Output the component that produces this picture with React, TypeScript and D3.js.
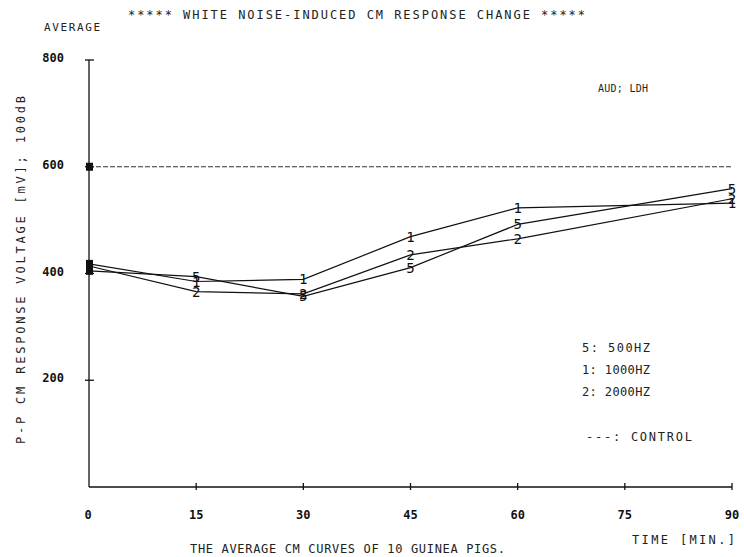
import React from 'react';
import * as d3 from 'd3';

// time points (min) and average p-p CM voltage per frequency
const times = [0, 15, 30, 45, 60, 90];
const s500 = [405, 394, 357, 411, 492, 559];
const s1000 = [418, 385, 389, 469, 523, 532];
const s2000 = [414, 366, 362, 435, 465, 540];
const controlValue = 600;

const xTicks = [0, 15, 30, 45, 60, 75, 90];
const yTicks = [200, 400, 600, 800];

const seriesList = [
    { mark: '5', values: s500 },
    { mark: '1', values: s1000 },
    { mark: '2', values: s2000 }
];

const legendItems = ['5:  500HZ', '1: 1000HZ', '2: 2000HZ'];

const W = 744;
const H = 557;
const MONO = '"DejaVu Sans Mono", "Liberation Mono", monospace';

const x = d3.scaleLinear().domain([0, 90]).range([89, 732]);
const y = d3.scaleLinear().domain([0, 800]).range([487, 60]);

const line = d3.line<number>()
    .x((d, i) => x(times[i]))
    .y(d => y(d));

export default function App() {
    return (
        <svg width={W} height={H} style={{ position: 'absolute', left: 0, top: 0, background: '#fff' }}>
            <g fontFamily={MONO} fill="#222">
                <text x={128} y={19} fontSize={12} textLength={457} lengthAdjust="spacing">
                    ***** WHITE NOISE-INDUCED CM RESPONSE CHANGE *****
                </text>
                <text x={44} y={31} fontSize={11} textLength={56} lengthAdjust="spacing">AVERAGE</text>
                <text x={598} y={92} fontSize={10} textLength={50} lengthAdjust="spacing">AUD; LDH</text>
                <text transform="translate(25,270) rotate(-90)" textAnchor="middle" fontSize={12}
                    textLength={348} lengthAdjust="spacing">
                    P-P CM RESPONSE VOLTAGE [mV]; 100dB
                </text>
            </g>

            {/* axes */}
            <g stroke="#111" strokeWidth={1.3} fill="none">
                <line x1={x(0)} y1={y(800)} x2={x(0)} y2={y(0)} />
                <line x1={x(0)} y1={y(0)} x2={x(90)} y2={y(0)} />
                {yTicks.map(t => (
                    <line key={t} x1={x(0) - 4} x2={x(0) + 5} y1={y(t)} y2={y(t)} />
                ))}
                {xTicks.slice(1).map(t => (
                    <line key={t} x1={x(t)} x2={x(t)} y1={y(0) - 4} y2={y(0) + 3} />
                ))}
            </g>

            <g fontFamily={MONO} fontWeight="bold" fontSize={12} fill="#111">
                {yTicks.map(t => (
                    <text key={t} x={64} y={y(t) + 2} textAnchor="end">{t}</text>
                ))}
                <text x={x(0) - 1} y={519} textAnchor="middle">0</text>
                {xTicks.slice(1).map(t => (
                    <text key={t} x={x(t)} y={519} textAnchor="middle">{t}</text>
                ))}
            </g>

            {/* control */}
            <line x1={x(0)} x2={x(90)} y1={y(controlValue)} y2={y(controlValue)}
                stroke="#333" strokeWidth={1} strokeDasharray="5,2" />
            <rect x={x(0) - 3} y={y(controlValue) - 4} width={7} height={8} fill="#111" />

            {/* series */}
            {seriesList.map(s => (
                <g key={s.mark}>
                    <path d={line(s.values) || ''} fill="none" stroke="#111" strokeWidth={1.2} />
                    <rect x={x(0) - 3} y={y(s.values[0]) - 4} width={7} height={8} fill="#111" />
                    {s.values.slice(1).map((v, i) => (
                        <text key={i} x={x(times[i + 1])} y={y(v) + 5} textAnchor="middle"
                            fontFamily={MONO} fontSize={14} fill="#111">{s.mark}</text>
                    ))}
                </g>
            ))}

            <g fontFamily={MONO} fontSize={12} fill="#222">
                {legendItems.map((t, i) => (
                    <text key={t} x={582} y={352 + i * 22} textLength={68} lengthAdjust="spacing">{t}</text>
                ))}
                <text x={586} y={441} textLength={106} lengthAdjust="spacing">---: CONTROL</text>
                <text x={632} y={544} textLength={103} lengthAdjust="spacing">TIME [MIN.]</text>
                <text x={190} y={553} textLength={315} lengthAdjust="spacing">
                    THE AVERAGE CM CURVES OF 10 GUINEA PIGS.
                </text>
            </g>
        </svg>
    );
}
